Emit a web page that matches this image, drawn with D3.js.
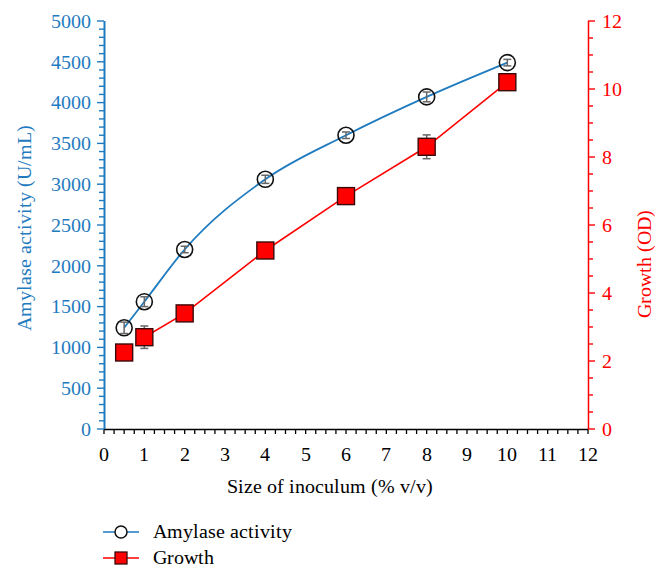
<!DOCTYPE html>
<html><head><meta charset="utf-8">
<script src="https://cdn.jsdelivr.net/npm/d3@7"></script>
<style>
@font-face{font-family:"ChartSerif";src:local("Liberation Serif"),local("LiberationSerif"),local("Liberation Serif Regular"),local("LiberationSerif-Regular");}
body{margin:0;background:#fff}
svg{display:block}
</style>
</head><body><svg id="c" width="668" height="581"></svg>
<script>
const xVals = [0.5, 1, 2, 4, 6, 8, 10];
const amylase = [1240, 1560, 2200, 3060, 3600, 4070, 4490];
const amylaseErr = [70, 60, 40, 50, 40, 60, 40];
const growth = [2.25, 2.7, 3.4, 5.25, 6.85, 8.3, 10.2];
const growthErr = [0.1, 0.33, 0.1, 0.1, 0.15, 0.35, 0.1];
const xTicks = [0,1,2,3,4,5,6,7,8,9,10,11,12];
const leftTicks = [0,500,1000,1500,2000,2500,3000,3500,4000,4500,5000];
const rightTicks = [0,2,4,6,8,10,12];
const seriesNames = ["Amylase activity", "Growth"];

const BLUE = "#1f7bbf", RED = "#ff0000";
const FONT = "ChartSerif, 'Liberation Serif', 'Times New Roman', serif";
const svg = d3.select("#c").attr("font-family", FONT).style("font-family", FONT);
const x = d3.scaleLinear().domain([0,12]).range([104,588]);
const yL = d3.scaleLinear().domain([0,5000]).range([429,21]);
const yR = d3.scaleLinear().domain([0,12]).range([429,21]);

function txt(sel){ return sel.attr("font-family",FONT).style("font-family",FONT).attr("font-size",20); }

const xa = svg.append("g").attr("transform","translate(0,429)");
xa.selectAll("line").data(d3.range(0,12.001,0.25)).join("line")
  .attr("x1",d=>x(d)).attr("x2",d=>x(d)).attr("y1",0).attr("y2",5).attr("stroke","#000").attr("stroke-width",1.3);
xa.append("line").attr("x1",104).attr("x2",588).attr("y1",0.5).attr("y2",0.5).attr("stroke","#000").attr("stroke-width",1.5);
xTicks.forEach(t=>txt(svg.append("text")).attr("x",x(t)).attr("y",461).attr("text-anchor","middle").attr("fill","#000").text(t));

const la = svg.append("g");
la.selectAll("line").data(d3.range(0,5001,100)).join("line")
  .attr("x1",d=>d%500===0?97:99).attr("x2",104).attr("y1",d=>yL(d)).attr("y2",d=>yL(d)).attr("stroke",BLUE).attr("stroke-width",1.4);
la.append("line").attr("x1",104.5).attr("x2",104.5).attr("y1",429).attr("y2",21).attr("stroke",BLUE).attr("stroke-width",2);
leftTicks.forEach(t=>txt(svg.append("text")).attr("x",91).attr("y",yL(t)).attr("dy","0.34em").attr("text-anchor","end").attr("fill",BLUE).text(t));

const ra = svg.append("g");
ra.selectAll("line").data(d3.range(0,12.001,0.5)).join("line")
  .attr("x1",588).attr("x2",d=>d%2===0?595:593).attr("y1",d=>yR(d)).attr("y2",d=>yR(d)).attr("stroke",RED).attr("stroke-width",1.4);
ra.append("line").attr("x1",588.5).attr("x2",588.5).attr("y1",429).attr("y2",21).attr("stroke",RED).attr("stroke-width",1.5);
rightTicks.forEach(t=>txt(svg.append("text")).attr("x",602).attr("y",yR(t)).attr("dy","0.34em").attr("fill",RED).text(t));

txt(svg.append("text")).attr("x",330).attr("y",493).attr("text-anchor","middle").attr("fill","#000").text("Size of inoculum (% v/v)");
txt(svg.append("text")).attr("transform","translate(31,228) rotate(-90)").attr("text-anchor","middle").attr("fill",BLUE).text("Amylase activity (U/mL)");
txt(svg.append("text")).attr("transform","translate(651,264) rotate(-90)").attr("text-anchor","middle").attr("fill",RED).text("Growth (OD)");

const A = xVals.map((v,i)=>({x:v,y:amylase[i],e:amylaseErr[i]}));
const G = xVals.map((v,i)=>({x:v,y:growth[i],e:growthErr[i]}));

svg.append("path").datum(A).attr("fill","none").attr("stroke",BLUE).attr("stroke-width",1.8)
  .attr("d",d3.line().x(d=>x(d.x)).y(d=>yL(d.y)).curve(d3.curveMonotoneX));
svg.append("path").datum(G.slice(1)).attr("fill","none").attr("stroke",RED).attr("stroke-width",1.6)
  .attr("d",d3.line().x(d=>x(d.x)).y(d=>yR(d.y)));

function errBars(data, ys){
  const g = svg.append("g").attr("stroke","#666").attr("stroke-width",1.5);
  data.forEach(d=>{
    const cx = x(d.x), t = ys(d.y+d.e), b = ys(d.y-d.e);
    g.append("line").attr("x1",cx).attr("x2",cx).attr("y1",t).attr("y2",b);
    g.append("line").attr("x1",cx-4).attr("x2",cx+4).attr("y1",t).attr("y2",t);
    g.append("line").attr("x1",cx-4).attr("x2",cx+4).attr("y1",b).attr("y2",b);
  });
}
errBars(A, yL);
errBars(G, yR);

svg.append("g").selectAll("circle").data(A).join("circle")
  .attr("cx",d=>x(d.x)).attr("cy",d=>yL(d.y)).attr("r",8)
  .attr("fill","none").attr("stroke","#111").attr("stroke-width",1.6);
svg.append("g").selectAll("rect").data(G).join("rect")
  .attr("x",d=>x(d.x)-8.5).attr("y",d=>yR(d.y)-8.5).attr("width",17).attr("height",17)
  .attr("fill",RED).attr("stroke","#3a0a0a").attr("stroke-width",1.4);

const lg = svg.append("g");
[[0,532,BLUE],[1,558,RED]].forEach(([i,ly,col])=>{
  lg.append("line").attr("x1",103).attr("x2",139).attr("y1",ly).attr("y2",ly).attr("stroke",col).attr("stroke-width",1.6);
  if(i===0) lg.append("circle").attr("cx",121).attr("cy",ly).attr("r",6).attr("fill","#fff").attr("stroke","#111").attr("stroke-width",1.5);
  else lg.append("rect").attr("x",115).attr("y",ly-6).attr("width",12).attr("height",12).attr("fill",RED).attr("stroke","#3a0a0a").attr("stroke-width",1.3);
  txt(lg.append("text")).attr("x",153).attr("y",ly+6).attr("fill","#000").text(seriesNames[i]);
});
</script></body></html>
